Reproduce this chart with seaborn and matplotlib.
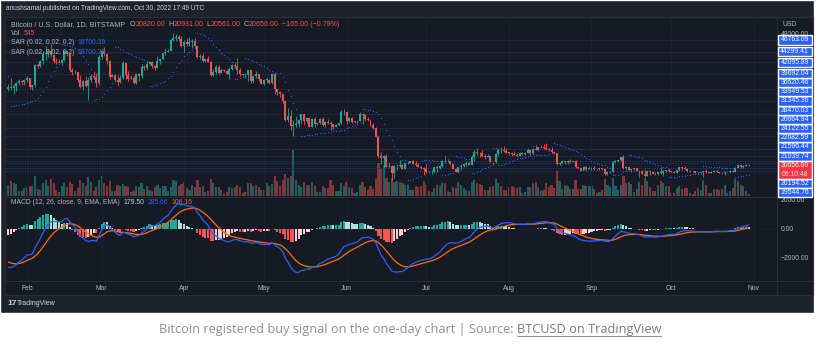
import numpy as np
import pandas as pd
import matplotlib
matplotlib.use("Agg")
import matplotlib.pyplot as plt
import seaborn as sns
from matplotlib.patches import Rectangle

# ---------------- data (BTC/USD daily, Bitstamp) ----------------
prev_close = 36650  # close of Jan 24, open of first visible candle

close_jan = [36950, 36830, 37160, 37710, 38160, 37920, 38480]
high_jan = [37550, 38900, 37500, 37950, 38650, 38360, 38700]
low_jan = [36230, 36250, 35560, 36200, 37340, 37380, 37350]
vol_jan = [3200, 4300, 3500, 3300, 1500, 1400, 2300]

close_feb = [38740, 36950, 37300, 41570, 41380, 42410, 43840, 44040, 44370, 43530, 42390, 42220, 42060, 42550,
             44560, 43880, 40520, 40000, 40100, 38400, 37020, 38280, 37260, 38330, 39220, 39110, 37700, 43190]
high_feb = [39250, 38850, 37400, 41700, 41940, 42640, 44500, 45500, 44800, 45820, 43920, 43000, 42720, 42840,
            44770, 44560, 44000, 40950, 40500, 40150, 39450, 38430, 39250, 38970, 39700, 40260, 39850, 43600]
low_feb = [38020, 36650, 36260, 37000, 40950, 41100, 41850, 42680, 43150, 43280, 41990, 41770, 41870, 41600,
           42430, 43350, 40100, 39520, 39620, 38050, 36800, 36360, 37050, 34320, 38050, 38620, 37000, 37450]
vol_feb = [2500, 2700, 2900, 5600, 2000, 1600, 3600, 4400, 2900, 4600, 3700, 1600, 1200, 2800,
           3500, 2400, 3800, 3400, 1400, 2100, 4500, 3600, 2900, 5400, 3800, 1500, 2400, 4500]

close_mar = [44420, 43920, 42450, 39150, 39400, 38420, 38060, 38740, 41980, 39440, 38730, 38810, 37790, 39670,
             39280, 41110, 40920, 41770, 42240, 41260, 41000, 42360, 42890, 43960, 44330, 44540, 46820, 47130,
             47460, 47060, 45540]
high_mar = [44950, 45400, 44100, 42500, 39600, 39680, 39450, 39370, 42400, 41970, 40250, 39480, 39300, 39910,
            39900, 41680, 41470, 42300, 42400, 42300, 41540, 43350, 42900, 44150, 45100, 44800, 46900, 48190,
            48100, 47700, 47600]
low_mar = [42800, 43330, 41850, 38600, 38950, 38100, 37160, 37850, 38660, 38550, 38250, 38660, 37600, 37600,
           38150, 38850, 40520, 40450, 41500, 40950, 40500, 40900, 41760, 42600, 43650, 44200, 44450, 46600,
           46600, 46500, 45250]
vol_mar = [5500, 3500, 2800, 4200, 1500, 1500, 3200, 2800, 3400, 2700, 2600, 1100, 1400, 2800,
           2500, 3700, 2000, 2900, 1600, 1500, 2500, 3000, 2300, 2900, 2700, 1300, 2600, 4500,
           4100, 2800, 3300]

close_apr = [46290, 45840, 46430, 46610, 45520, 43190, 43460, 42290, 42780, 42200, 39520, 40090, 41150, 39950,
             40560, 40390, 39690, 40810, 41500, 41370, 40480, 39720, 39460, 39450, 40440, 38120, 39240, 39740,
             38600, 37650]
high_apr = [46700, 47200, 47450, 46900, 47200, 45520, 43900, 43970, 42800, 43420, 42400, 40700, 41560, 41500,
            40850, 40690, 40470, 41100, 41750, 42200, 42950, 40830, 39980, 39930, 40600, 40780, 39440, 40350,
            39400, 38800]
low_apr = [44200, 45550, 45600, 45160, 45360, 43000, 42750, 42150, 42100, 42100, 39200, 39250, 39600, 39600,
           39800, 40000, 39600, 38550, 40560, 40870, 39750, 39200, 39310, 38850, 38200, 37720, 37870, 38900,
           38200, 37600]
vol_apr = [3800, 2100, 1800, 3000, 2600, 4400, 2500, 2700, 1000, 1500, 4700, 3700, 2400, 2500,
           1700, 800, 1000, 2600, 2100, 2500, 3100, 2400, 900, 1000, 3700, 3500, 2700, 3100,
           2600, 1700]

close_may = [38480, 38520, 37730, 39700, 36550, 36010, 35480, 34060, 30090, 31020, 28940, 28990, 29290, 30080,
             31330, 29880, 30450, 28720, 30310, 29200, 29430, 30290, 29100, 29650, 29540, 29200, 28630, 29030,
             29470, 31730, 31800]
high_may = [38660, 39150, 38650, 39900, 39830, 36650, 36150, 35500, 34250, 32650, 32150, 30100, 30980, 30300,
            31400, 31300, 30750, 30650, 30500, 30750, 29620, 30420, 30650, 29820, 30200, 29800, 29350, 29250,
            29550, 32200, 32350]
low_may = [37400, 37700, 37500, 37660, 35600, 35300, 34800, 33700, 29800, 29750, 28050, 26700, 28700, 28700,
           29500, 29100, 29480, 28650, 28700, 28700, 28950, 29250, 28900, 28600, 29320, 28050, 28280, 28600,
           28830, 29280, 31200]
vol_may = [1600, 3500, 2800, 3300, 5500, 4100, 2800, 4400, 6000, 5000, 5500, 12800, 4500, 3100,
           2600, 3800, 3100, 3100, 3900, 2900, 1100, 1200, 2700, 2300, 2100, 4500, 3100, 1300,
           1500, 3700, 2900]

close_jun = [29800, 30450, 29700, 29860, 29910, 31370, 31130, 30200, 30110, 29090, 28420, 26590, 22490, 22130,
             22580, 20380, 20470, 19010, 20550, 20570, 20720, 19970, 21100, 21230, 21500, 21030, 20730, 20280,
             20100, 19930]
high_jun = [31950, 30650, 30700, 29950, 30180, 31750, 31600, 31300, 30700, 30350, 29450, 28550, 26900, 23350,
            22800, 22950, 21350, 20800, 20650, 21000, 21700, 20900, 21200, 21550, 21600, 21850, 21500, 21200,
            20450, 20250]
low_jun = [29300, 29600, 29550, 29500, 29500, 29900, 29200, 29900, 29900, 28900, 28200, 26600, 22250, 20900,
           20080, 20260, 20250, 17600, 17950, 19650, 20400, 19800, 19900, 20950, 21050, 20950, 20500, 20200,
           19850, 18650]
vol_jun = [4000, 2500, 2100, 800, 1000, 3200, 4000, 2500, 1700, 2800, 2000, 4800, 9200, 7500,
           8500, 5000, 3800, 5000, 4000, 4300, 4000, 3700, 3100, 3000, 1800, 1600, 2700, 2600,
           2700, 4100]

close_jul = [19300, 19240, 19300, 20230, 20190, 20550, 21620, 21590, 21590, 20840, 19960, 19330, 20250, 20580,
             20830, 21190, 20790, 22430, 23400, 23230, 23150, 22680, 22450, 22580, 21310, 21250, 22950, 23850,
             23770, 23640, 23300]
high_jul = [20850, 19400, 19600, 20350, 20700, 20680, 21840, 22500, 21950, 21600, 20840, 20020, 20250, 20880,
            21200, 21550, 21650, 22700, 23800, 24270, 23420, 23750, 22970, 22980, 22630, 21370, 23120, 24180,
            24400, 24650, 24200]
low_jul = [18980, 19000, 18780, 19050, 19300, 19800, 20250, 21150, 21360, 20650, 19850, 19250, 18960, 19600,
           20380, 20500, 20770, 20780, 21600, 22900, 22380, 22420, 21930, 22300, 21260, 20700, 21050, 22550,
           23140, 23470, 23150]
vol_jul = [3200, 1300, 1000, 2200, 3100, 2800, 3500, 3700, 1400, 1200, 2600, 2200, 3800, 3200,
           2300, 1700, 1500, 3900, 4500, 3700, 3400, 3100, 1700, 1600, 2600, 2800, 4600, 3500,
           2900, 1600, 1600]

close_aug = [23270, 22980, 22820, 22620, 23310, 22960, 23170, 23810, 23160, 23950, 23940, 24400, 24440, 24300,
             24100, 23850, 23340, 23190, 20830, 21140, 21520, 21410, 21530, 21370, 21560, 20260, 20040, 19550,
             20290, 19800, 20050]
high_aug = [23500, 23450, 23650, 23220, 23450, 23350, 23400, 24240, 23930, 24230, 24900, 24460, 24880, 25050,
            25200, 24240, 24430, 23600, 23200, 21370, 21800, 21550, 21680, 21870, 21820, 21800, 20350, 20150,
            20430, 20560, 20490]
low_aug = [22850, 22650, 22700, 22430, 22590, 22850, 22840, 23150, 22880, 22700, 23900, 23660, 24300, 24010,
           23780, 23680, 23200, 23100, 20800, 20780, 21100, 20900, 20900, 21160, 21320, 20100, 19820, 19520,
           19600, 19550, 19830]
vol_aug = [2400, 2700, 2500, 2100, 2400, 900, 1000, 2600, 2400, 3700, 3900, 2600, 1400, 1700,
           3600, 2400, 3100, 2200, 7000, 4200, 1900, 3100, 2700, 2000, 1900, 4500, 2000, 1900,
           3200, 2900, 2900]

close_sep = [20130, 19950, 19830, 19990, 19800, 18790, 19290, 19320, 21360, 21650, 21830, 22400, 20170, 20230,
             19700, 19800, 20110, 19420, 19540, 18880, 18480, 19400, 19290, 18920, 18800, 19230, 19080, 19410,
             19590, 19420]
high_sep = [20200, 20440, 19970, 19990, 20050, 20170, 19450, 19450, 21450, 21800, 21850, 22480, 22790, 20530,
            20350, 19900, 20180, 20100, 19680, 19680, 19950, 19500, 19500, 19310, 19200, 19320, 20350, 19760,
            19640, 20180]
low_sep = [19600, 19780, 19650, 19600, 19640, 18680, 18550, 19000, 19320, 21100, 21370, 21600, 19900, 19650,
           19520, 19330, 19730, 19370, 18300, 18770, 18200, 18500, 18640, 18840, 18650, 18700, 18850, 18500,
           19180, 19240]
vol_sep = [2700, 2000, 900, 1000, 1800, 4700, 3200, 2500, 5000, 2700, 1800, 3100, 5700, 3700,
           3800, 3400, 1200, 2000, 3800, 3000, 5100, 4100, 2500, 1400, 1300, 3000, 4300, 3500,
           2800, 2800]

close_oct = [19310, 19060, 19630, 20340, 20160, 19960, 19530, 19420, 19440, 19130, 19060, 19160, 19380, 19180,
             19070, 19260, 19550, 19330, 19120, 19040, 19170, 19200, 19570, 19330, 20090, 20770, 20290, 20600,
             20820, 20656]
high_oct = [19480, 19400, 19700, 20460, 20360, 20450, 20060, 19600, 19550, 19530, 19250, 19220, 19510, 19940,
            19220, 19400, 19680, 19700, 19350, 19340, 19250, 19270, 19700, 19590, 20390, 20880, 20860, 20750,
            20990, 20931]
low_oct = [19170, 18960, 19060, 19500, 19750, 19920, 19330, 19340, 19300, 19020, 18900, 18990, 18190, 19110,
           18980, 19050, 19200, 19200, 19070, 18900, 18670, 19120, 19120, 19240, 19250, 20030, 20170, 20000,
           20560, 20561]
vol_oct = [700, 800, 2200, 2800, 1900, 2100, 2300, 700, 600, 1500, 2100, 1700, 4500, 3000,
           800, 900, 1900, 2000, 1700, 2000, 3000, 900, 1400, 2100, 4700, 4100, 3000, 2800,
           1300, 545]

# closes before the visible window (Nov 15 2021 - Jan 24 2022) used only for MACD warm-up
warmup_close = [60370, 60160, 60370, 56940, 58120, 59750, 58720, 56300, 57570, 57150, 58960, 53730, 54720, 57270,
                57810, 56950,
                57230, 56510, 53600, 49150, 49400, 50580, 50500, 50560, 47670, 47240, 49350, 50110, 46740, 48380,
                48890, 47660, 46200, 46850, 46700, 46900, 49000, 48600, 50800, 50400, 50800, 50650, 50700, 47540,
                46460, 47120, 46210,
                47740, 47310, 46450, 45830, 43430, 43080, 41560, 41730, 41870, 41820, 42740, 43920, 42590, 43080,
                43100, 43180, 42250, 42370, 41740, 40680, 36460, 35030, 36280, 36650]
# highs / lows Jan 13 - Jan 24 used only to start the Parabolic SAR
warmup_high = [44400, 43450, 43780, 43480, 43200, 42700, 42600, 43500, 41100, 36800, 36500, 37000]
warmup_low = [42320, 41750, 42600, 42700, 41560, 41250, 41150, 40600, 35450, 34050, 34600, 32950]

# horizontal levels drawn on the chart
levels = [46763.09, 44299.41, 42095.89, 39692.04, 36620.46, 33949.53, 31345.36, 28470.03, 26664.94,
          24122.55, 22682.59, 21596.44, 21039.74, 20194.52, 19544.76]
last_price = 20656.00
countdown = "06:10:48"
month_labels = ["Feb", "Mar", "Apr", "May", "Jun", "Jul", "Aug", "Sep", "Oct", "Nov"]
macd_ticks = [2000, 0, -2000]
legend_ohlc = ["20820.00", "20931.00", "20561.00", "20656.00"]
legend_change = "−165.00 (−0.79%)"
legend_vol = "545"
legend_sar = "18700.39"
legend_macd = ["179.50", "285.66", "106.16"]

# ---------------- assemble ----------------
closes = np.array(close_jan + close_feb + close_mar + close_apr + close_may + close_jun + close_jul + close_aug
                  + close_sep + close_oct, dtype=float)
highs = np.array(high_jan + high_feb + high_mar + high_apr + high_may + high_jun + high_jul + high_aug
                 + high_sep + high_oct, dtype=float)
lows = np.array(low_jan + low_feb + low_mar + low_apr + low_may + low_jun + low_jul + low_aug
                + low_sep + low_oct, dtype=float)
vols = np.array(vol_jan + vol_feb + vol_mar + vol_apr + vol_may + vol_jun + vol_jul + vol_aug
                + vol_sep + vol_oct, dtype=float)
opens = np.concatenate([[prev_close], closes[:-1]])
dates = pd.date_range("2022-01-25", periods=len(closes), freq="D")
origin = pd.Timestamp("2022-02-01")
xs = np.array([(d - origin).days for d in dates], dtype=float)
month_x = [(pd.Timestamp(f"2022-{m:02d}-01") - origin).days for m in range(2, 12)]

# MACD (12, 26, 9)
allc = pd.Series(warmup_close + list(closes))
ema12 = allc.ewm(span=12, adjust=False).mean()
ema26 = allc.ewm(span=26, adjust=False).mean()
macd_all = ema12 - ema26
sig_all = macd_all.ewm(span=9, adjust=False).mean()
n = len(closes)
macd = macd_all.values[-n:]
sig = sig_all.values[-n:]
hist_all = (macd_all - sig_all).values
hist = hist_all[-n:]
hist_prev = hist_all[-n - 1:-1]


def psar(high, low, start=0.02, inc=0.02, mx=0.2):
    sar = np.zeros(len(high))
    up = False
    af = start
    ep = low[0]
    sar[0] = high[0]
    for i in range(1, len(high)):
        s = sar[i - 1] + af * (ep - sar[i - 1])
        j = max(i - 2, 0)
        if up:
            s = min(s, low[i - 1], low[j])
            if low[i] < s:
                up, s, ep, af = False, ep, low[i], start
            elif high[i] > ep:
                ep = high[i]
                af = min(af + inc, mx)
        else:
            s = max(s, high[i - 1], high[j])
            if high[i] > s:
                up, s, ep, af = True, ep, high[i], start
            elif low[i] < ep:
                ep = low[i]
                af = min(af + inc, mx)
        sar[i] = s
    return sar


sar = psar(np.array(warmup_high + list(highs)), np.array(warmup_low + list(lows)))[-n:]

# ---------------- styling ----------------
sns.set_theme(style="dark")
plt.rcParams["font.family"] = ["Liberation Sans", "DejaVu Sans"]

W, H = 821, 350
fig = plt.figure(figsize=(W / 100, H / 100), dpi=100, facecolor="white")

BG = "#161a25"
FRAME = "#1e222d"
BORDER = "#2a2e39"
TXT = "#b2b5be"
UP = "#26a69a"
DOWN = "#ef5350"
BLUE = "#2962ff"
ORANGE = "#ff6d00"


def fx(x):
    return x / W


def fy(y):
    return 1 - y / H


def box(x0, y0, x1, y1):
    return [x0 / W, 1 - y1 / H, (x1 - x0) / W, (y1 - y0) / H]


def frect(x0, y0, x1, y1, color, z=0, **kw):
    fig.patches.append(Rectangle((fx(x0), fy(y1)), (x1 - x0) / W, (y1 - y0) / H,
                                 transform=fig.transFigure, facecolor=color, zorder=z, **kw))


# screenshot frame and chart background
frect(0, 0, 814, 313, FRAME)
frect(5, 17, 813, 295, BG, z=0.5, edgecolor=BORDER, linewidth=0.8)
for (x0, y0, x1, y1) in [(777, 17, 777, 295), (5, 196.5, 813, 196.5), (5, 281, 813, 281)]:
    fig.lines.append(plt.Line2D([fx(x0), fx(x1)], [fy(y0), fy(y1)], transform=fig.transFigure,
                                color=BORDER, lw=0.7, zorder=1))

XLIM = (-7.9, 281.3)
PLIM = (14261, 51338)
ax_v = fig.add_axes(box(6, 18, 776, 196))
ax_p = fig.add_axes(box(6, 18, 776, 196))
ax_m = fig.add_axes(box(6, 197, 776, 281))
for a in (ax_v, ax_p, ax_m):
    a.set_xlim(*XLIM)
    a.patch.set_visible(False)
    a.set_xticks([])
    a.set_yticks([])
    a.grid(False)
    for s in a.spines.values():
        s.set_visible(False)
ax_v.set_zorder(2)
ax_p.set_zorder(3)
ax_m.set_zorder(2)

ax_p.set_ylim(*PLIM)
ax_v.set_ylim(0, vols.max() * 178 / 46)
ax_m.set_ylim(-3566, 2228)

# grid
for mxv in month_x:
    ax_p.axvline(mxv, color="#1e2230", lw=0.6, zorder=0)
    ax_m.axvline(mxv, color="#1e2230", lw=0.6, zorder=0)
for gy in np.arange(20000, 50000, 4000):
    ax_p.axhline(gy, color="#1c202c", lw=0.5, zorder=0)

# volume
is_up = closes >= opens
vcol = np.where(is_up, UP, DOWN)
ax_v.bar(xs, vols, width=0.8, color=vcol, alpha=0.5, linewidth=0)

# horizontal levels
for lv in levels:
    ax_p.axhline(lv, color=BLUE, lw=0.6, ls=(0, (1, 2.2)), alpha=0.7, zorder=1)

# SAR (two identical indicators overlay)
sar_df = pd.DataFrame({"x": xs, "sar": sar})
sns.scatterplot(data=sar_df, x="x", y="sar", ax=ax_p, color=BLUE, s=1.0, linewidth=0,
                marker="o", zorder=2, legend=False, alpha=0.85)

# candles
ccol = np.where(is_up, UP, DOWN)
ax_p.vlines(xs, lows, highs, colors=ccol, lw=0.6, zorder=3)
body_lo = np.minimum(opens, closes)
body_h = np.maximum(np.abs(closes - opens), 60)
ax_p.bar(xs, body_h, bottom=body_lo, width=0.75, color=ccol, linewidth=0, zorder=4)
ax_p.set_xlabel("")
ax_p.set_ylabel("")

# MACD pane
ax_m.axhline(0, color="#2a2e39", lw=0.5, ls=(0, (1, 1.5)), zorder=0)
hcol = []
for h, hp in zip(hist, hist_prev):
    if h >= 0:
        hcol.append("#26a69a" if h > hp else "#b2dfdb")
    else:
        hcol.append("#ff5252" if h < hp else "#ffcdd2")
ax_m.bar(xs, hist, width=0.78, color=hcol, linewidth=0, zorder=1)
mdf = pd.DataFrame({"x": xs, "macd": macd, "signal": sig})
sns.lineplot(data=mdf, x="x", y="signal", ax=ax_m, color=ORANGE, lw=0.9, zorder=2)
sns.lineplot(data=mdf, x="x", y="macd", ax=ax_m, color=BLUE, lw=0.9, zorder=3)
ax_m.set_xlabel("")
ax_m.set_ylabel("")
ax_m.set_xlim(*XLIM)
ax_p.set_xlim(*XLIM)

# ---------------- texts ----------------
fig.canvas.draw()
renderer = fig.canvas.get_renderer()
FS = 4.9


def seq_text(x, y, parts, size=FS):
    cur = x
    for t, c, gap in parts:
        tt = fig.text(fx(cur), fy(y), t, color=c, fontsize=size, va="center", ha="left", zorder=10)
        cur += tt.get_window_extent(renderer).width + gap
    return cur


fig.text(fx(6), fy(9), "anushsamal published on TradingView.com, Oct 30, 2022 17:49 UTC",
         color="#d1d4dc", fontsize=4.7, va="center", ha="left")

seq_text(11, 25, [("Bitcoin / U.S. Dollar, 1D, BITSTAMP", TXT, 5),
                  ("O", TXT, 0), (legend_ohlc[0], DOWN, 3),
                  ("H", TXT, 0), (legend_ohlc[1], DOWN, 3),
                  ("L", TXT, 0), (legend_ohlc[2], DOWN, 3),
                  ("C", TXT, 0), (legend_ohlc[3], DOWN, 3),
                  (legend_change, DOWN, 0)], size=5.1)
seq_text(11, 33.5, [("Vol", TXT, 3), (legend_vol, DOWN, 0)])
seq_text(11, 43, [("SAR (0.02, 0.02, 0.2)", TXT, 3), (legend_sar, BLUE, 0)])
seq_text(11, 53, [("SAR (0.02, 0.02, 0.2)", TXT, 3), (legend_sar, BLUE, 0)])
seq_text(11, 202.5, [("MACD (12, 26, close, 9, EMA, EMA)", TXT, 4), (legend_macd[0], "#b2dfdb", 3),
                     (legend_macd[1], BLUE, 3), (legend_macd[2], ORANGE, 0)])

# price axis
fig.text(fx(782), fy(24), "USD", color=TXT, fontsize=FS, va="center", ha="left")
fig.text(fx(781), fy(34), "48000.00", color=TXT, fontsize=FS, va="center", ha="left")


def price_to_px(p):
    lo, hi = ax_p.get_ylim()
    return 196 - (p - lo) / (hi - lo) * 178


LH = 9.2
cur_y = price_to_px(last_price)
above = sorted([lv for lv in levels if lv > last_price])
below = sorted([lv for lv in levels if lv < last_price], reverse=True)
pos = {}
limit = cur_y - 4.5
for lv in above:
    yv = min(price_to_px(lv), limit - LH / 2)
    pos[lv] = yv
    limit = yv - LH / 2
limit = cur_y + 13.7
for lv in below:
    yv = max(price_to_px(lv), limit + LH / 2)
    pos[lv] = yv
    limit = yv + LH / 2
for lv, yv in pos.items():
    frect(777.5, yv - LH / 2, 812, yv + LH / 2, BLUE, z=5)
    fig.text(fx(794.5), fy(yv), f"{lv:.2f}", color="white", fontsize=FS, va="center", ha="center", zorder=11)
frect(777.5, cur_y - 4.5, 812, cur_y + 13.7, "#f23645", z=5)
fig.text(fx(794.5), fy(cur_y), f"{last_price:.2f}", color="white", fontsize=FS, va="center", ha="center", zorder=11)
fig.text(fx(794.5), fy(cur_y + 8.8), countdown, color="#ffd6d6", fontsize=FS, va="center", ha="center", zorder=11)

# MACD axis labels
for t in macd_ticks:
    lo, hi = ax_m.get_ylim()
    yv = 281 - (t - lo) / (hi - lo) * 84
    lab = f"{t:.2f}".replace("-", "−")
    fig.text(fx(781), fy(yv), lab, color=TXT, fontsize=FS, va="center", ha="left")

# time axis labels
for lab, mxv in zip(month_labels, month_x):
    xp = 6 + (mxv - XLIM[0]) / (XLIM[1] - XLIM[0]) * 770
    fig.text(fx(xp), fy(288), lab, color=TXT, fontsize=FS, va="center", ha="center")

# TradingView footer logo
fig.text(fx(7), fy(303.5), "17", color="#d1d4dc", fontsize=6, fontweight="bold", va="center", ha="left")
fig.text(fx(17), fy(303.5), "TradingView", color="#d1d4dc", fontsize=5.0, va="center", ha="left")

# caption
cap_font = ["Open Sans", "DejaVu Sans"]
t1 = fig.text(0, fy(329), "Bitcoin registered buy signal on the one-day chart | Source: ",
              color="#8f8f8f", fontsize=9.2, va="center", ha="left", family=cap_font)
t2 = fig.text(0, fy(329), "BTCUSD on TradingView", color="#7a7a7a", fontsize=9.2, va="center", ha="left",
              family=cap_font)
w1 = t1.get_window_extent(renderer).width
w2 = t2.get_window_extent(renderer).width
start = 410 - (w1 + w2) / 2
t1.set_x(fx(start))
t2.set_x(fx(start + w1))
fig.lines.append(plt.Line2D([fx(start + w1), fx(start + w1 + w2)], [fy(335.5), fy(335.5)],
                            transform=fig.transFigure, color="#7a7a7a", lw=0.6))

fig.savefig("out.png", dpi=100, facecolor="white")
